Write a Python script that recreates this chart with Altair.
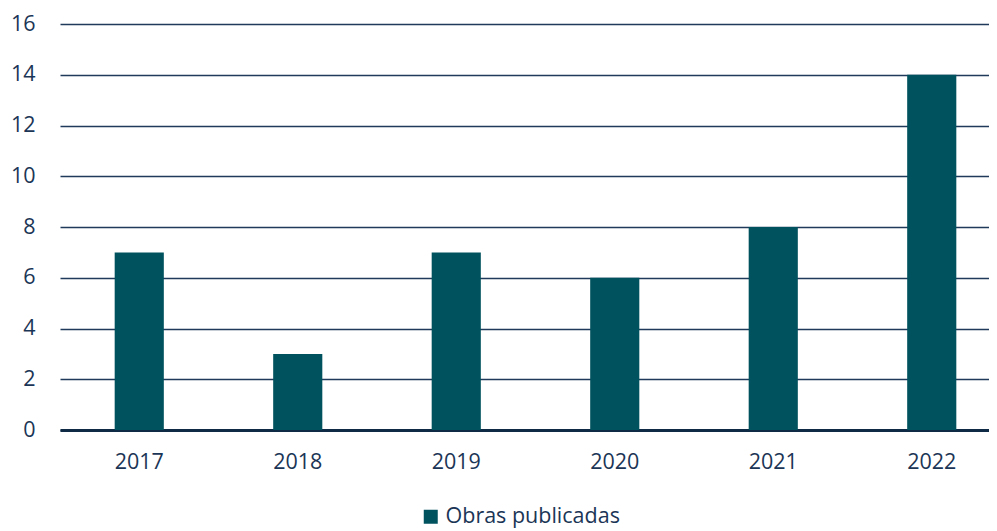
import altair as alt
import pandas as pd

years = ["2017", "2018", "2019", "2020", "2021", "2022"]
values = [7, 3, 7, 6, 8, 14]
series = "Obras publicadas"

df = pd.DataFrame({"year": years, "value": values, "series": [series] * len(years)})

text_color = "#1b3556"
font = "Open Sans"
fs = 21.5

chart = alt.Chart(df).mark_bar(color="#00525e").encode(
    x=alt.X("year:N", sort=years,
            scale=alt.Scale(paddingInner=0.69, paddingOuter=0.345, range=[0, 951]),
            axis=alt.Axis(title=None, labelAngle=0, labelFontSize=fs, labelColor=text_color,
                          labelFont=font, labelPadding=21, ticks=False,
                          domainColor="#0f2a45", domainWidth=3)),
    y=alt.Y("value:Q", scale=alt.Scale(domain=[0, 16]),
            axis=alt.Axis(title=None, values=list(range(0, 17, 2)), labelFontSize=fs,
                          labelColor=text_color, labelFont=font, labelPadding=25,
                          ticks=False, domain=False, gridColor="#1f3a5a", gridWidth=1.3)),
    fill=alt.Fill("series:N", scale=alt.Scale(range=["#00525e"]),
                  legend=alt.Legend(title=None, orient="none", legendX=360, legendY=482,
                                    symbolType="square", symbolSize=196, labelFontSize=fs,
                                    labelColor=text_color, labelFont=font, labelLimit=400,
                                    symbolStrokeWidth=0)),
).properties(
    width=929, height=406,
    autosize=alt.AutoSizeParams(type="none"),
    padding={"left": 52, "top": 16, "right": 0, "bottom": 101},
).configure_view(stroke=None).configure_axisY(grid=True).configure_axisX(grid=False)

chart.save("out.html", embed_options={"renderer": "svg", "actions": False})
